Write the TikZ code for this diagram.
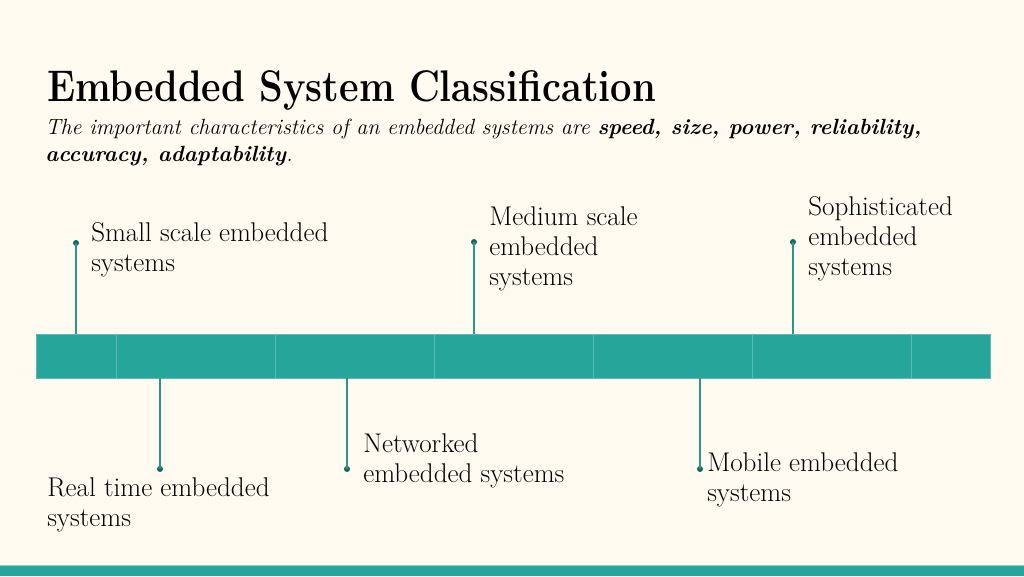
\documentclass[tikz,border=0pt]{standalone}
\usepackage{xcolor}
\usetikzlibrary{positioning}
\definecolor{paper}{RGB}{255,251,240}
\definecolor{tealbar}{RGB}{38,166,154}
\definecolor{tealline}{RGB}{44,150,138}
\definecolor{tealdot}{RGB}{12,105,94}

\begin{document}
\begin{tikzpicture}[x=0.75pt,y=-0.75pt,
    item/.style={anchor=north west, inner sep=0pt, align=left,
      font=\fontsize{20.3}{22.8}\selectfont},
    stem/.style={tealline, line width=1pt},
    pin/.style={circle, fill=tealdot, inner sep=0pt, minimum size=4.5pt}]
    % page
    \fill[paper] (0,0) rectangle (1024,576);
    \useasboundingbox (0,0) rectangle (1024,576);
    \fill[tealbar] (0,565) rectangle (1024,576);
    \draw[tealbar!55!white, line width=0.6pt] (0,565) -- (1024,565);
    % heading
    \node[anchor=base west, inner sep=0pt, xscale=0.86, transform shape,
      font=\fontsize{33.2}{38}\selectfont\bfseries] (title) at (47,101)
      {Embedded System Classification};
    \node[anchor=north west, inner sep=0pt, align=left,
      font=\fontsize{16.5}{20}\selectfont\itshape] (intro) at (45,119)
      {The important characteristics of an embedded systems are
       \textbf{speed, size, power, reliability,}\\
       \textbf{accuracy, adaptability}.};
    % timeline bar
    \node[fill=tealbar, draw=tealbar!75!white, line width=0.5pt,
      minimum width=954*0.75pt, minimum height=44*0.75pt, inner sep=0pt]
      (bar) at (513,356) {};
    \foreach \x in {116,275,434,593,752,911} {
      \draw[tealbar!75!white, line width=0.5pt] (\x,334) -- (\x,378);
    }
    % pins above
    \node[pin] (small) at (76,243) {};
    \node[pin] (medium) at (474,242) {};
    \node[pin] (soph) at (793,242) {};
    % pins below
    \node[pin] (real) at (160,469) {};
    \node[pin] (net) at (347,469) {};
    \node[pin] (mobile) at (700,469) {};
    \foreach \p in {small,medium,soph} {
      \draw[stem] (\p.center) -- (\p |- bar.north);
    }
    \foreach \p in {real,net,mobile} {
      \draw[stem] (\p.center) -- (\p |- bar.south);
    }
    % labels
    \node[item] (smalltext) at (91,222) {Small scale embedded\\systems};
    \node[item] (mediumtext) at (489,206) {Medium scale\\embedded\\systems};
    \node[item] (sophtext) at (808,196) {Sophisticated\\embedded\\systems};
    \node[item] (realtext) at (47,477) {Real time embedded\\systems};
    \node[item] (nettext) at (363,433) {Networked\\embedded systems};
    \node[item] (mobiletext) at (707,452) {Mobile embedded\\systems};
\end{tikzpicture}
\end{document}
